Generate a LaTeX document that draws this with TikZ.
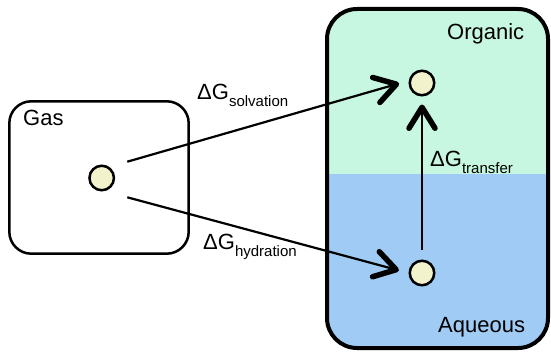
\documentclass[tikz,border=0pt]{standalone}
\usepackage{fontspec}
\setmainfont{Liberation Sans}
\usetikzlibrary{arrows.meta,calc}
\definecolor{orggreen}{RGB}{199,247,224}
\definecolor{aqblue}{RGB}{160,203,244}
\definecolor{cream}{RGB}{242,242,204}
\newcommand\lsub[1]{\raisebox{-6.5pt}{\fontsize{15}{18}\selectfont #1}}
\begin{document}
\begin{tikzpicture}[x=1pt,y=-1pt,
  mol/.style={circle,draw,line width=2.5pt,fill=cream,minimum size=24.5pt,inner sep=0pt},
  lbl/.style={anchor=base west,inner sep=0pt,font=\fontsize{22}{26}\selectfont},
  arr/.style={line width=2.2pt,-{Straight Barb[length=21pt,width=26pt,line width=5.5pt,round]}},
  phasebox/.style={line width=4pt,rounded corners=30pt},
  gasbox/.style={line width=2.5pt,rounded corners=22pt}]
\useasboundingbox (0,0) rectangle (551,352);
% right box with two phases
\begin{scope}
  \clip[rounded corners=30pt] (327,9) rectangle (548,348);
  \fill[orggreen] (327,9) rectangle (548,174);
  \fill[aqblue] (327,174) rectangle (548,348);
\end{scope}
\draw[phasebox] (327,9) rectangle (548,348);
% gas box
\draw[gasbox] (9.3,101.3) rectangle (188.7,253.7);
% molecules
\node[mol] (gas) at (101.7,178) {};
\node[mol] (org) at (422,83) {};
\node[mol] (aq) at (422,273) {};
% labels
\node[lbl] (gaslbl) at (23,126) {Gas};
\node[lbl] (orglbl) at (447,40) {Organic};
\node[lbl] (aqlbl) at (438,332) {Aqueous};
\node[lbl] (solv) at (197,100) {ΔG\lsub{solvation}};
\node[lbl] (hyd) at (203,250) {ΔG\lsub{hydration}};
\node[lbl] (trans) at (430,167) {ΔG\lsub{transfer}};
% arrow start points
\coordinate (s1) at (127.3,161.7);
\coordinate (s2) at (127.3,197.3);
\draw[arr,shorten >=10pt] (s1) -- (org.170);
\draw[arr,shorten >=10pt] (s2) -- (aq.west);
\draw[arr,shorten <=9.5pt,shorten >=8pt] (aq.north) -- (org.south);
\end{tikzpicture}
\end{document}
